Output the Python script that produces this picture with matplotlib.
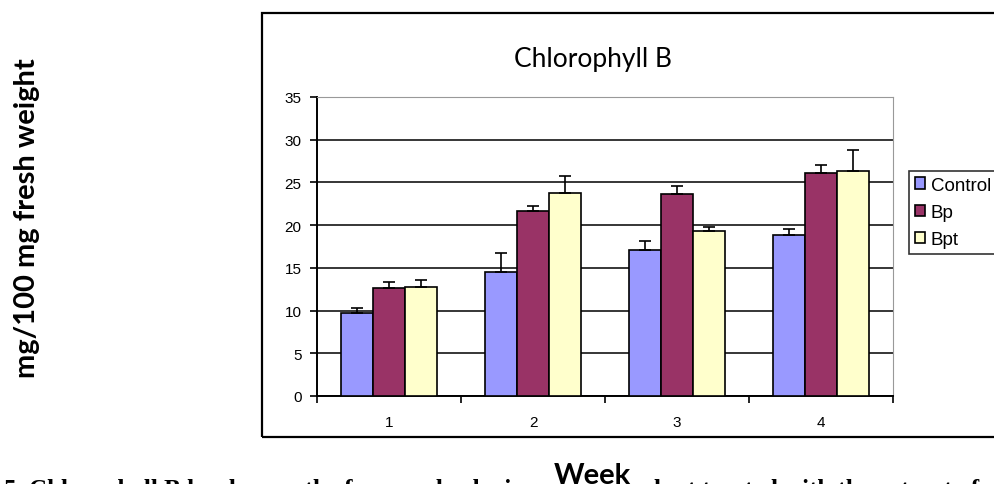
import numpy as np
import matplotlib
matplotlib.use("Agg")
import matplotlib.pyplot as plt
from matplotlib.patches import Rectangle

# data
weeks = ["1", "2", "3", "4"]
control = [9.7, 14.5, 17.1, 18.9]
bp = [12.7, 21.6, 23.7, 26.1]
bpt = [12.8, 23.8, 19.3, 26.3]
control_err = [0.6, 2.2, 1.1, 0.6]
bp_err = [0.6, 0.6, 0.9, 0.9]
bpt_err = [0.8, 2.0, 0.5, 2.5]

W, H = 995, 485
fig = plt.figure(figsize=(W / 100, H / 100), dpi=100)
ax = fig.add_axes([317 / W, 1 - 397 / H, 576 / W, 299 / H])

x = np.arange(len(weeks))
w = 0.222
series = [("Control", control, control_err, "#9999FF"),
          ("Bp", bp, bp_err, "#993366"),
          ("Bpt", bpt, bpt_err, "#FFFFCC")]
for i, (name, vals, err, col) in enumerate(series):
    pos = x + (i - 1) * w
    ax.bar(pos, vals, width=w, color=col, edgecolor="black", linewidth=1.2,
           label=name, zorder=3)
    ax.errorbar(pos, vals, yerr=[np.zeros(len(err)), err], fmt="none",
                ecolor="black", elinewidth=1.2, capsize=4, capthick=1.2, zorder=4)

ax.set_xlim(-0.5, 3.5)
ax.set_ylim(0, 35)
ax.set_yticks(np.arange(0, 36, 5))
ax.yaxis.grid(True, color="black", linewidth=1.1, zorder=0)
ax.set_axisbelow(True)

# category boundary ticks, labels in between
ax.set_xticks(np.arange(-0.5, 4, 1))
ax.set_xticklabels([])
ax.set_xticks(x, minor=True)
ax.set_xticklabels(weeks, minor=True)
ax.tick_params(axis="x", which="major", direction="out", length=5, width=1.2)
ax.tick_params(axis="x", which="minor", length=0, pad=14)
ax.tick_params(axis="y", direction="out", length=5, width=1.2, pad=6)
for lab in ax.get_xticklabels(minor=True) + ax.get_yticklabels():
    lab.set_fontfamily("Liberation Sans")
    lab.set_fontsize(11)

ax.spines["left"].set_linewidth(1.4)
ax.spines["bottom"].set_linewidth(1.4)
ax.spines["top"].set_color("#999999")
ax.spines["right"].set_color("#999999")

# outer chart frame (runs off the right edge)
fig.patches.append(Rectangle((262 / W, 1 - 438 / H), 800 / W, 424 / H,
                             transform=fig.transFigure, fill=False,
                             edgecolor="black", linewidth=1.6, clip_on=False))

fig.text(593 / W, 1 - 60 / H, "Chlorophyll B", ha="center", va="center",
         fontfamily="Lato", fontsize=19)

leg = fig.legend(loc="upper left", bbox_to_anchor=(909 / W, 1 - 172 / H),
                 frameon=True, fancybox=False, borderaxespad=0, borderpad=0.3,
                 handlelength=0.55, handleheight=0.55, handletextpad=0.3,
                 labelspacing=0.55, prop={"family": "Liberation Sans", "size": 13.5})
leg.get_frame().set_edgecolor("black")
leg.get_frame().set_linewidth(1.2)

fig.text(27 / W, 1 - 218 / H, "mg/100 mg fresh weight", rotation=90,
         ha="center", va="center", fontfamily="Lato", fontweight="bold", fontsize=21)
fig.text(592 / W, 1 - 476 / H, "Week", ha="center", va="center",
         fontfamily="Lato", fontweight="bold", fontsize=21)

caption_left = "5. Chlorophyll B levels over the four weeks during"
caption_right = "plant treated with the extract of"
fig.text(0.004, 1 - 479 / H, caption_left, ha="left", va="top",
         fontfamily="Liberation Serif", fontweight="bold", fontsize=18)
fig.text(640 / W, 1 - 479 / H, caption_right, ha="left", va="top",
         fontfamily="Liberation Serif", fontweight="bold", fontsize=18)

fig.savefig("out.png", dpi=100)
